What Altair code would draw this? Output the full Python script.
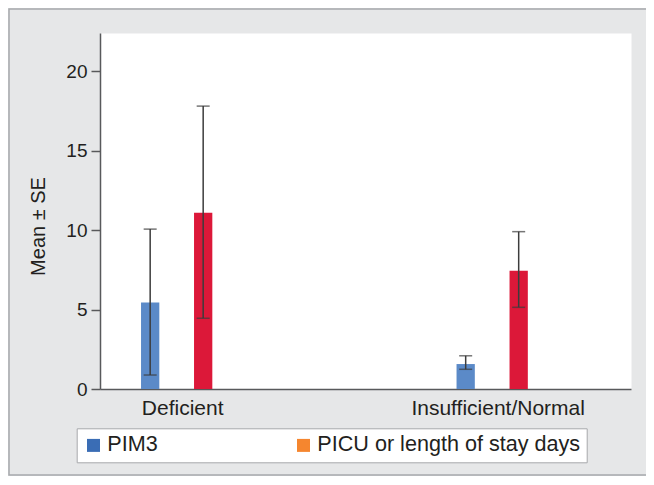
import altair as alt
import pandas as pd

categories = ["Deficient", "Insufficient/Normal"]
series_names = ["PIM3", "PICU or length of stay days"]
pim3_mean = [5.45, 1.57]
pim3_low = [0.88, 1.24]
pim3_high = [10.06, 2.09]
picu_mean = [11.09, 7.44]
picu_low = [4.45, 5.14]
picu_high = [17.8, 9.9]
y_ticks = [0, 5, 10, 15, 20]

bar_colors = ["#5b8ac8", "#dc1839"]
legend_colors = ["#3a6db5", "#f5862f"]

rows = []
for i, c in enumerate(categories):
    rows.append(dict(group=c, series=series_names[0], mean=pim3_mean[i], low=pim3_low[i], high=pim3_high[i]))
    rows.append(dict(group=c, series=series_names[1], mean=picu_mean[i], low=picu_low[i], high=picu_high[i]))
df = pd.DataFrame(rows)

W, H = 531, 356
FONT = "Liberation Sans"
TXT = "#231f20"
AX = "#58595b"
ERR = "#3c3c3c"

x = alt.X("group:N", sort=categories, title=None,
          scale=alt.Scale(paddingInner=0.6, paddingOuter=0.1415, align=0.152),
          axis=alt.Axis(labelAngle=0, ticks=False, labelFontSize=21, labelColor=TXT,
                        labelFont=FONT, labelPadding=8, labelOffset=6,
                        domainColor=AX, domainWidth=1.5))
xo = alt.XOffset("series:N", sort=series_names,
                 scale=alt.Scale(paddingInner=0.655, paddingOuter=0.518))
y_scale = alt.Scale(domain=[0, 22.4], nice=False, zero=True)

base = alt.Chart(df)

# zero-height bars that only carry the legend (legend colours differ from bar colours)
legend_layer = base.mark_bar().encode(
    x=x, xOffset=xo,
    y=alt.datum(0, scale=y_scale), y2=alt.datum(0),
    color=alt.Color("series:N", sort=series_names,
                    scale=alt.Scale(domain=series_names, range=legend_colors),
                    legend=alt.Legend(title=None, orient="none", legendX=-23.3, legendY=395.3,
                                      direction="horizontal", symbolType="square",
                                      symbolSize=169, symbolOpacity=1, symbolStrokeWidth=0,
                                      labelFontSize=21.6, labelFont=FONT, labelColor=TXT,
                                      labelOffset=3, columnPadding=135, padding=6,
                                      fillColor="white", strokeColor="#a7a9ac",
                                      labelLimit=400)),
)

bars = base.mark_bar().encode(
    x=x, xOffset=xo,
    y=alt.Y("mean:Q", scale=y_scale,
            axis=alt.Axis(values=y_ticks, title="Mean ± SE", grid=False,
                          tickSize=9, tickColor=AX, tickWidth=1.5,
                          domainColor=AX, domainWidth=1.5,
                          labelFontSize=19, labelFont=FONT, labelColor=TXT, labelPadding=4,
                          titleFontSize=20, titleFont=FONT, titleColor=TXT,
                          titleFontWeight="normal", titleAngle=270,
                          titleX=-56, titleY=193, titleAlign="center",
                          titleBaseline="alphabetic")),
    color=alt.Color("series:N", sort=series_names,
                    scale=alt.Scale(domain=series_names, range=bar_colors), legend=None),
)

rules = base.mark_rule(color=ERR, strokeWidth=1.5).encode(
    x=x, xOffset=xo, y=alt.Y("low:Q", scale=y_scale), y2="high:Q")
cap_hi = base.mark_tick(color=ERR, thickness=1.5, size=13).encode(
    x=x, xOffset=xo, y=alt.Y("high:Q", scale=y_scale))
cap_lo = base.mark_tick(color=ERR, thickness=1.5, size=13).encode(
    x=x, xOffset=xo, y=alt.Y("low:Q", scale=y_scale))

frame = alt.Chart(pd.DataFrame({"k": [0]})).mark_rect(
    filled=False, stroke="#a7a9ac", strokeWidth=1.5).encode(
    x=alt.value(-91), x2=alt.value(600), y=alt.value(-24), y2=alt.value(442))

chart = alt.layer(frame, legend_layer, bars, rules, cap_hi, cap_lo).resolve_scale(
    color="independent"
).properties(
    width=W, height=H,
    autosize=alt.AutoSizeParams(type="none"),
    padding={"left": 92, "top": 25, "right": 15, "bottom": 87},
    background="#e6e7e8",
).configure_view(fill="white", stroke="transparent")

chart.save("out.html", embed_options={"renderer": "svg", "actions": False})
